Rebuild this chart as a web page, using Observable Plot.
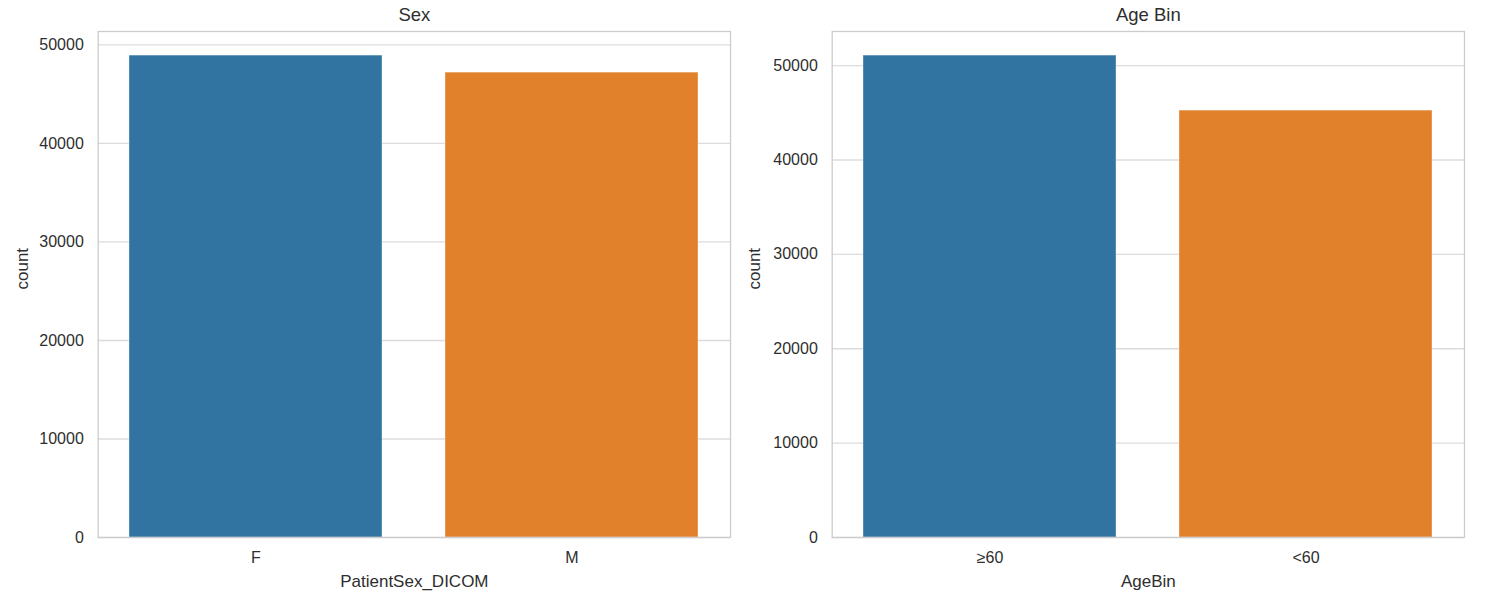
<!DOCTYPE html>
<html>
<head>
<meta charset="utf-8">
<script src="https://cdn.jsdelivr.net/npm/d3@7"></script>
<script src="https://cdn.jsdelivr.net/npm/@observablehq/plot@0.6"></script>
<style>
  html, body { margin: 0; padding: 0; background: #ffffff; }
  #wrap { position: relative; width: 1503px; height: 605px; overflow: hidden; }
  #wrap svg { position: absolute; top: 0; overflow: visible; }
</style>
</head>
<body>
<div id="wrap"></div>
<script>
// ---- data ----
const sexCategories = ["F", "M"];
const sexCounts = [48920, 47190];
const ageCategories = ["≥60", "<60"];
const ageCounts = [51060, 45230];
const yTicks = [0, 10000, 20000, 30000, 40000, 50000];
const barColors = ["#3274a1", "#e1812c"];
const titles = ["Sex", "Age Bin"];
const xLabels = ["PatientSex_DICOM", "AgeBin"];
const yLabel = "count";

const FONT = "'Liberation Sans', Arial, sans-serif";
const TEXT = "#2e2e2e";

function panel({cats, counts, title, xLabel, width, marginLeft, marginRight, labelDx}) {
  const rows = cats.map((c, i) => ({cat: c, count: counts[i], color: barColors[i]}));
  const ymax = d3.max(counts) * 1.05;
  const svg = Plot.plot({
    width,
    height: 605,
    marginLeft,
    marginRight,
    marginTop: 31,
    marginBottom: 68,
    style: {fontFamily: FONT, fontSize: "16px", color: TEXT, background: "transparent"},
    x: {domain: cats, paddingInner: 0.2, paddingOuter: 0.1, label: null},
    y: {domain: [0, ymax], label: null},
    marks: [
      Plot.gridY(yTicks, {stroke: "#dcdcdc", strokeOpacity: 1, strokeWidth: 1.3}),
      Plot.barY(rows, {x: "cat", y: "count", fill: "color", stroke: "#ffffff", strokeOpacity: 0.35, strokeWidth: 1}),
      Plot.frame({stroke: "#cccccc", strokeWidth: 1.3}),
      Plot.axisY(yTicks, {tickSize: 0, tickPadding: 14.4, label: null, fill: TEXT, tickFormat: d => String(d)}),
      Plot.axisX({tickSize: 0, tickPadding: 14.6, label: null, fill: TEXT}),
      Plot.text([title], {frameAnchor: "top", dy: -16.1, fontSize: 18.5, fill: TEXT, lineAnchor: "middle"}),
      Plot.text([xLabel], {frameAnchor: "bottom", dy: 43.6, fontSize: 17, fill: TEXT, lineAnchor: "middle"}),
      Plot.text([yLabel], {frameAnchor: "left", dx: labelDx, dy: 5, rotate: -90, fontSize: 17, fill: TEXT, lineAnchor: "middle"})
    ]
  });
  return svg;
}

const wrap = document.getElementById("wrap");
const s1 = panel({cats: sexCategories, counts: sexCounts, title: titles[0], xLabel: xLabels[0], width: 740, marginLeft: 97.7, marginRight: 10, labelDx: -76});
s1.style.left = "0px";
wrap.appendChild(s1);
const s2 = panel({cats: ageCategories, counts: ageCounts, title: titles[1], xLabel: xLabels[1], width: 773, marginLeft: 101.7, marginRight: 39, labelDx: -77.4});
s2.style.left = "730px";
wrap.appendChild(s2);
</script>
</body>
</html>
